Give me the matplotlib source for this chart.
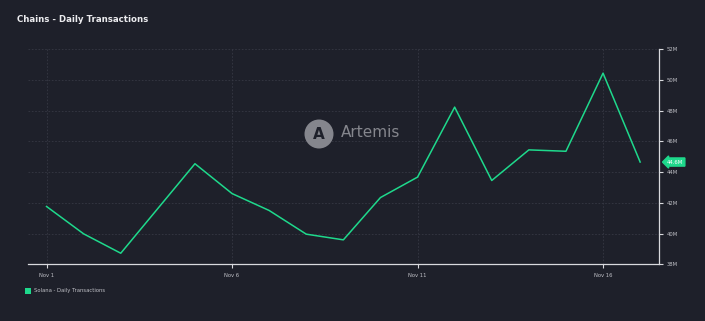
import matplotlib.pyplot as plt
from matplotlib.patches import Circle, Rectangle

days = ["Nov 1", "Nov 2", "Nov 3", "Nov 4", "Nov 5", "Nov 6", "Nov 7", "Nov 8", "Nov 9",
        "Nov 10", "Nov 11", "Nov 12", "Nov 13", "Nov 14", "Nov 15", "Nov 16", "Nov 17"]
tx_millions = [41.76, 39.98, 38.72, 41.63, 44.54, 42.6, 41.5, 39.96, 39.59,
               42.34, 43.67, 48.22, 43.45, 45.44, 45.35, 50.43, 44.65]
tick_days = ["Nov 1", "Nov 6", "Nov 11", "Nov 16"]
y_ticks = [38, 40, 42, 44, 46, 48, 50, 52]

bg = "#1e202a"
green = "#1ed98c"
axis_col = "#d9dade"
text_col = "#c0c1c7"
W, H = 705, 321

fig = plt.figure(figsize=(W / 100, H / 100), dpi=100, facecolor=bg)
ax = fig.add_axes([28 / W, 1 - 264.3 / H, (658.7 - 28) / W, (264.3 - 49) / H])
ax.set_facecolor(bg)

x = list(range(len(days)))
ax.plot(x, tx_millions, color=green, lw=1.1, zorder=3)

ax.set_xlim(-0.5, 16.5)
ax.set_ylim(38, 52)

ax.set_xticks([days.index(d) for d in tick_days])
ax.set_xticklabels(tick_days)
ax.set_yticks(y_ticks)
ax.set_yticklabels([f"{v}M" for v in y_ticks])
ax.yaxis.tick_right()

ax.grid(True, color="#363844", lw=0.6, ls=(0, (2, 2)))
ax.set_axisbelow(True)
for s in ["top", "left"]:
    ax.spines[s].set_visible(False)
for s in ["bottom", "right"]:
    ax.spines[s].set_color(axis_col)
    ax.spines[s].set_linewidth(0.9)
ax.tick_params(axis="both", colors=axis_col, labelcolor=text_col, labelsize=3.8,
               length=3, width=0.8, pad=3)

# last value marker
ax.annotate(f"{tx_millions[-1]:.1f}M", xy=(1.0, tx_millions[-1]), xycoords=("axes fraction", "data"),
            xytext=(6, 0), textcoords="offset points", va="center", ha="left",
            fontsize=3.8, color="white",
            bbox=dict(boxstyle="larrow,pad=0.3", fc=green, ec=green))

# watermark
fig.patches.append(Circle((3.19, (H - 134) / 100), 0.145, transform=fig.dpi_scale_trans,
                          fc="#85868d", ec="none", zorder=5))
fig.text(319 / W, 1 - 135 / H, "A", fontsize=11, fontweight="bold", color=bg,
         ha="center", va="center", zorder=6)
fig.text(341 / W, 1 - 133 / H, "Artemis", fontsize=11, color="#85868d",
         ha="left", va="center", zorder=6)

fig.text(17 / W, 1 - 20 / H, "Chains - Daily Transactions", fontsize=6.2, fontweight="bold",
         color="#ececef", ha="left", va="center")

# legend
fig.patches.append(Rectangle((25 / W, 1 - 293.5 / H), 6 / W, 6 / H, transform=fig.transFigure,
                             fc=green, ec="none"))
fig.text(34 / W, 1 - 290.5 / H, "Solana - Daily Transactions", fontsize=3.8, color=text_col,
         ha="left", va="center")

fig.savefig("out.png", dpi=100, facecolor=bg)
